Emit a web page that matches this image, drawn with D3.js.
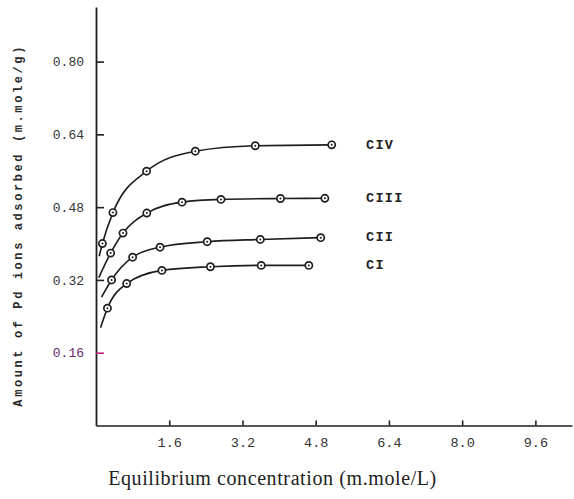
<!DOCTYPE html>
<html><head><meta charset="utf-8">
<script src="https://cdn.jsdelivr.net/npm/d3@7/dist/d3.min.js"></script>
<style>
body{margin:0;background:#fff;}
svg{display:block;}
</style></head>
<body><svg id="c" width="574" height="499"></svg>
<script>
// ---- data ----
const seriesNames = ["CI", "CII", "CIII", "CIV"];
// curve start (near the y axis, no marker)
const curveStart = [[0.10, 0.215], [0.12, 0.282], [0.06, 0.325], [0.07, 0.372]];
const ciPoints   = [[0.25, 0.258], [0.67, 0.312], [1.44, 0.341], [2.50, 0.349], [3.61, 0.352], [4.65, 0.352]];
const ciiPoints  = [[0.34, 0.320], [0.80, 0.370], [1.40, 0.392], [2.43, 0.404], [3.59, 0.409], [4.91, 0.413]];
const ciiiPoints = [[0.32, 0.379], [0.59, 0.423], [1.11, 0.467], [1.88, 0.491], [2.73, 0.497], [4.03, 0.499], [5.00, 0.4995]];
const civPoints  = [[0.14, 0.400], [0.37, 0.468], [1.105, 0.559], [2.17, 0.603], [3.48, 0.615], [5.15, 0.617]];
const xTicks = [1.6, 3.2, 4.8, 6.4, 8.0, 9.6];
const xTickLabels = ["1.6", "3.2", "4.8", "6.4", "8.0", "9.6"];
const yTicks = [0.16, 0.32, 0.48, 0.64, 0.80];
const yTickLabels = ["0.16", "0.32", "0.48", "0.64", "0.80"];
const xTitle = "Equilibrium concentration (m.mole/L)";
const yTitle = "Amount of Pd ions adsorbed (m.mole/g)";

const allPoints = [ciPoints, ciiPoints, ciiiPoints, civPoints];

const svg = d3.select("#c");
const x = d3.scaleLinear().domain([0, 10.4]).range([96, 572]);
const y = d3.scaleLinear().domain([0, 0.92]).range([425.5, 7]);
const ink = "#1e1e1e";

// axes
const yAxis = d3.axisLeft(y).tickValues(yTicks).tickFormat((d, i) => yTickLabels[i])
  .tickSizeInner(-8).tickSizeOuter(0).tickPadding(12);
const gy = svg.append("g").attr("transform", `translate(${x(0)},0)`).call(yAxis);
gy.select(".domain").attr("stroke", ink).attr("stroke-width", 1.8);
gy.selectAll(".tick line").attr("stroke", ink).attr("stroke-width", 1.6);
gy.selectAll(".tick text").attr("fill", "#333").style("font-family", "'Liberation Mono', monospace")
  .style("font-size", "13px");
gy.selectAll(".tick").filter(d => d === 0.16).select("line").attr("stroke", "#c0207a");
gy.selectAll(".tick").filter(d => d === 0.16).select("text").attr("fill", "#6a2a6a");

const xAxis = d3.axisBottom(x).tickValues(xTicks).tickFormat((d, i) => xTickLabels[i])
  .tickSizeInner(-5).tickSizeOuter(0).tickPadding(12);
const gx = svg.append("g").attr("transform", `translate(0,${y(0)})`).call(xAxis);
gx.select(".domain").attr("stroke", ink).attr("stroke-width", 1.6);
gx.selectAll(".tick line").attr("stroke", ink).attr("stroke-width", 1.6);
gx.selectAll(".tick text").attr("fill", "#333").style("font-family", "'Liberation Mono', monospace")
  .style("font-size", "13.5px");

// curves
const line = d3.line().x(d => x(d[0])).y(d => y(d[1])).curve(d3.curveMonotoneX);
allPoints.forEach((pts, i) => {
  const full = [curveStart[i]].concat(pts);
  svg.append("path").attr("d", line(full)).attr("fill", "none")
    .attr("stroke", ink).attr("stroke-width", 1.6);
  svg.append("g").selectAll("circle").data(pts).join("circle")
    .attr("cx", d => x(d[0])).attr("cy", d => y(d[1])).attr("r", 3.6)
    .attr("fill", "#fff").attr("stroke", ink).attr("stroke-width", 1.7);
  svg.append("g").selectAll("circle").data(pts).join("circle")
    .attr("cx", d => x(d[0])).attr("cy", d => y(d[1])).attr("r", 1)
    .attr("fill", ink);
  const last = pts[pts.length - 1];
  const labelY = y(last[1]);
  svg.append("text").attr("x", x(5.9)).attr("y", labelY - 1).attr("dy", "0.35em")
    .attr("fill", "#222").style("font-family", "'Liberation Mono', monospace")
    .style("font-size", "13.5px").style("font-weight", "bold").style("letter-spacing", "1.3px")
    .text(seriesNames[i]);
});

// titles
svg.append("text").attr("x", 272.5).attr("y", 485)
  .attr("text-anchor", "middle").attr("fill", "#222")
  .style("font-family", "'Liberation Serif', 'Times New Roman', serif").style("font-size", "20px")
  .style("letter-spacing", "0.6px")
  .text(xTitle);
svg.append("text").attr("transform", `translate(22,${(y(0.04) + y(0.84)) / 2}) rotate(-90)`)
  .attr("text-anchor", "middle").attr("fill", "#2a2a2a")
  .style("font-family", "'Liberation Mono', monospace").style("font-size", "12px")
  .style("font-weight", "bold").style("letter-spacing", "2.6px")
  .text(yTitle);
</script></body></html>
